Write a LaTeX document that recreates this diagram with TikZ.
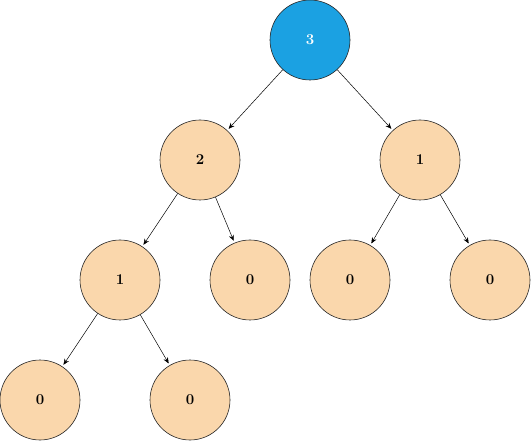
\documentclass[tikz,border=0pt]{standalone}
\usetikzlibrary{arrows.meta}
\definecolor{peach}{RGB}{250,215,172}
\definecolor{rootblue}{RGB}{27,161,226}
\begin{document}
\begin{tikzpicture}[x=1pt,y=-1pt,
    num/.style={circle,draw=black!85,line width=0.6pt,fill=peach,minimum size=80pt,inner sep=0pt,font=\fontsize{15}{17}\selectfont\bfseries},
    rootnum/.style={num,fill=rootblue,text=white},
    link/.style={-{Stealth[length=6pt,width=5pt]},line width=0.5pt,shorten >=2pt}]
    \useasboundingbox (0,0) rectangle (531,441);
    \node[rootnum] (r) at (310,40) {3};
    \node[num] (a) at (200,160) {2};
    \node[num] (b) at (420,160) {1};
    \node[num] (aa) at (120,280) {1};
    \node[num] (ab) at (250,280) {0};
    \node[num] (ba) at (350,280) {0};
    \node[num] (bb) at (490,280) {0};
    \node[num] (aaa) at (40,400) {0};
    \node[num] (aab) at (190,400) {0};
    \draw[link] (r)--(a);
    \draw[link] (r)--(b);
    \draw[link] (a)--(aa);
    \draw[link] (a)--(ab);
    \draw[link] (b)--(ba);
    \draw[link] (b)--(bb);
    \draw[link] (aa)--(aaa);
    \draw[link] (aa)--(aab);
\end{tikzpicture}
\end{document}
